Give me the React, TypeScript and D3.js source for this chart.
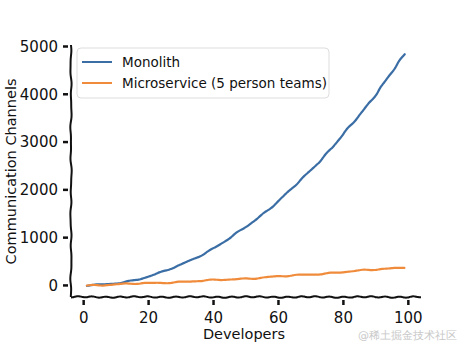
import React, { useEffect, useRef } from "react";
import * as d3 from "d3";

const developers = [1, 5, 10, 15, 20, 25, 30, 35, 40, 45, 50, 55, 60, 65, 70, 75, 80, 85, 90, 95, 99];
const monolith = [0, 10, 45, 105, 190, 300, 435, 595, 780, 990, 1225, 1485, 1770, 2080, 2415, 2775, 3160, 3570, 4005, 4465, 4851];
const microservice = [0, 10, 22, 33, 46, 60, 75, 91, 108, 126, 145, 165, 186, 208, 231, 255, 280, 306, 333, 361, 385];
const xTicks = [0, 20, 40, 60, 80, 100];
const yTicks = [0, 1000, 2000, 3000, 4000, 5000];
const seriesNames = ["Monolith", "Microservice (5 person teams)"];
const seriesColors = ["#3b6ea5", "#ef8b3b"];

const W = 468, H = 351;
const FONT = "'Humor Sans', 'Comic Sans MS', 'DejaVu Sans', sans-serif";

const wig = (t: number, seed: number, a: number) =>
  a * (0.8 * Math.sin(t * 0.45 + seed) + 0.35 * Math.sin(t * 0.11 + seed * 2.1));

const wig2 = (t: number, seed: number, a: number) =>
  a * (0.55 * Math.sin(t * 0.21 + seed) + 0.4 * Math.sin(t * 0.083 + seed * 1.9) + 0.25 * Math.sin(t * 0.37 + seed * 0.7));

export default function App() {
  const ref = useRef<SVGGElement>(null);
  const left = 71, right = 421, top = 42, bottom = 297;
  const x = d3.scaleLinear().domain([-3.9, 103.9]).range([left, right]);
  const y = d3.scaleLinear().domain([-242, 5094]).range([bottom, top]);

  const xs = d3.range(left, right + 1, 1);
  const xSpine = d3.line<number>().x((d) => d).y((d) => bottom + wig(d, 1, 0.7)).curve(d3.curveBasis)(xs) as string;
  const ys = d3.range(top + 3, bottom + 1, 1);
  const ySpine = d3.line<number>().x((d) => left + wig2(d, 3, 0.7)).y((d) => d).curve(d3.curveBasis)(ys) as string;

  const series = [monolith, microservice];

  useEffect(() => {
    const g = d3.select(ref.current);
    g.selectAll("*").remove();
    series.forEach((vals, si) => {
      const base = d3
        .line<number>()
        .x((_, i) => x(developers[i]))
        .y((d) => y(d))
        .curve(d3.curveCatmullRom)(vals) as string;
      const tmp = g.append("path").attr("d", base).attr("fill", "none");
      const node = tmp.node() as SVGPathElement;
      const len = node.getTotalLength();
      const pts: [number, number][] = [];
      const step = 2;
      for (let s = 0; s <= len; s += step) {
        const p = node.getPointAtLength(s);
        const p2 = node.getPointAtLength(Math.min(len, s + 0.5));
        const p1 = node.getPointAtLength(Math.max(0, s - 0.5));
        let dx = p2.x - p1.x, dy = p2.y - p1.y;
        const m = Math.hypot(dx, dy) || 1;
        dx /= m; dy /= m;
        const off = wig2(s, 2 + si * 1.7, 0.75);
        pts.push([p.x - dy * off, p.y + dx * off]);
      }
      tmp.remove();
      g.append("path")
        .attr("d", d3.line().curve(d3.curveBasis)(pts) as string)
        .attr("fill", "none")
        .attr("stroke", seriesColors[si])
        .attr("stroke-width", 2.2)
        .attr("stroke-linejoin", "round")
        .attr("stroke-linecap", "round");
    });
  }, []);

  return (
    <svg width={W} height={H} style={{ position: "absolute", left: 0, top: 0, background: "#fff" }} fontFamily={FONT}>
      <rect width={W} height={H} fill="#fff" />
      <g ref={ref} />
      <path d={xSpine} fill="none" stroke="#111" strokeWidth={2} />
      <path d={ySpine} fill="none" stroke="#111" strokeWidth={2} />
      {xTicks.map((t) => (
        <g key={t}>
          <line x1={x(t)} x2={x(t)} y1={bottom + 3} y2={bottom + 8} stroke="#111" strokeWidth={2.5} />
          <text x={x(t)} y={bottom + 26} textAnchor="middle" fontSize={15} fill="#111">{t}</text>
        </g>
      ))}
      {yTicks.map((t) => (
        <g key={t}>
          <line x1={left - 8} x2={left - 3} y1={y(t)} y2={y(t)} stroke="#111" strokeWidth={2.5} />
          <text x={left - 13} y={y(t)} dy="0.35em" textAnchor="end" fontSize={15} fill="#111">{t}</text>
        </g>
      ))}
      <text x={(left + right) / 2 - 2} y={339} textAnchor="middle" fontSize={14.5} fill="#111">Developers</text>
      <text transform={`translate(16,${(top + bottom) / 2 + 2}) rotate(-90)`} textAnchor="middle" fontSize={14.5} fill="#111">Communication Channels</text>
      <g>
        <rect x={77} y={48} width={252} height={50} rx={4} fill="#fff" fillOpacity={0.9} stroke="#ddd" strokeWidth={1} />
        {seriesNames.map((n, i) => (
          <g key={n}>
            <line x1={82} x2={112} y1={62 + i * 21} y2={62 + i * 21} stroke={seriesColors[i]} strokeWidth={2} />
            <text x={122} y={62 + i * 21} dy="0.35em" fontSize={13.5} fill="#111">{n}</text>
          </g>
        ))}
      </g>
      <text x={457} y={339} textAnchor="end" fontSize={11} fill="#c8c8c8">@稀土掘金技术社区</text>
    </svg>
  );
}
